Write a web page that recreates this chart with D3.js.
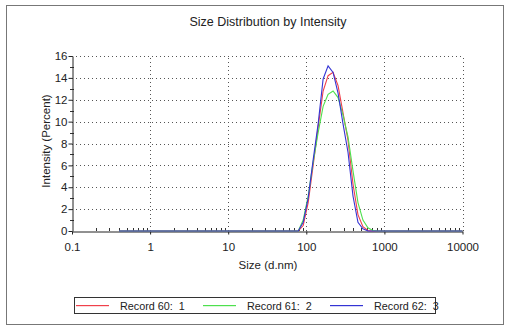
<!DOCTYPE html>
<html>
<head>
<meta charset="utf-8">
<script src="https://cdn.jsdelivr.net/npm/d3@7"></script>
<style>
  body { margin: 0; background: #fff; }
  text { font-family: "Liberation Sans", Arial, sans-serif; fill: #222; }
</style>
</head>
<body>
<div id="chart"></div>
<script>
// size classes (d.nm)
const sizes = [0.4, 0.4632, 0.5365, 0.6213, 0.7195, 0.8332, 0.9649, 1.117, 1.294, 1.499,
  1.736, 2.010, 2.328, 2.696, 3.122, 3.615, 4.187, 4.849, 5.615, 6.503,
  7.531, 8.721, 10.10, 11.70, 13.54, 15.69, 18.17, 21.04, 24.36, 28.21,
  32.67, 37.84, 43.82, 50.75, 58.77, 68.06, 78.82, 91.28, 105.7, 122.4,
  141.8, 164.2, 190.1, 220.2, 255.0, 295.3, 342.0, 396.1, 458.7, 531.2,
  615.1, 712.4, 825.0, 955.4, 1106, 1281, 1484, 1718, 1990, 2305,
  2669, 3091, 3580, 4145, 4801, 5560, 6439, 7456, 8635, 10000];

// non-zero part of each record, starting at 78.82 nm
const peakStart = 36;
const record60 = [0, 0.5, 2.6, 6.0, 9.5, 12.8, 14.2, 14.5, 13.3, 10.8, 8.3, 4.3, 1.5, 0.4, 0.05, 0];
const record61 = [0, 1.0, 3.2, 6.3, 9.0, 11.4, 12.5, 12.8, 12.2, 10.6, 8.6, 5.5, 2.6, 1.0, 0.3, 0.05];
const record62 = [0, 0.8, 3.0, 6.5, 9.8, 13.9, 15.1, 14.5, 12.6, 9.8, 7.2, 3.2, 0.8, 0.2, 0, 0];

const seriesNames = ["Record 60:\u00a0 1", "Record 61:\u00a0 2", "Record 62:\u00a0 3"];
const seriesColors = ["#f0404a", "#4ee04e", "#3434d4"];
const xTickValues = [0.1, 1, 10, 100, 1000, 10000];
const yTickValues = [0, 2, 4, 6, 8, 10, 12, 14, 16];

function fullSeries(part) {
  return sizes.map((s, i) => {
    const k = i - peakStart;
    return {size: s, value: (k >= 0 && k < part.length) ? part[k] : 0};
  });
}
const series = [record60, record61, record62].map(fullSeries);

const width = 510, height = 330;
const margin = {top: 56, left: 72, right: 48, bottom: 99};

const svg = d3.select("#chart").append("svg")
  .attr("width", width)
  .attr("height", height);

// outer frame
svg.append("rect")
  .attr("x", 6.5).attr("y", 5.5)
  .attr("width", 497).attr("height", 319)
  .attr("fill", "none").attr("stroke", "#777");

const x = d3.scaleLog()
  .domain([0.1, 10000])
  .range([margin.left, width - margin.right + 0.5]);
const y = d3.scaleLinear()
  .domain([0, 16])
  .range([height - margin.bottom, margin.top]);

// grid
const grid = svg.append("g").attr("stroke", "#555").attr("stroke-width", 1)
  .attr("stroke-dasharray", "1,3");
grid.selectAll("line.gx").data(xTickValues.slice(1))
  .enter().append("line")
  .attr("x1", d => Math.round(x(d)) + 0.5).attr("x2", d => Math.round(x(d)) + 0.5)
  .attr("y1", y(0)).attr("y2", y(16));
grid.selectAll("line.gy").data(yTickValues.slice(1))
  .enter().append("line")
  .attr("x1", x(0.1)).attr("x2", x(10000))
  .attr("y1", d => Math.round(y(d)) + 0.5).attr("y2", d => Math.round(y(d)) + 0.5);

// x minor ticks (inside)
const minor = [];
xTickValues.slice(0, -1).forEach(d => { for (let m = 2; m <= 9; m++) minor.push(d * m); });
svg.append("g").selectAll("line").data(minor).enter().append("line")
  .attr("x1", d => Math.round(x(d)) + 0.5).attr("x2", d => Math.round(x(d)) + 0.5)
  .attr("y1", y(0)).attr("y2", y(0) - 3)
  .attr("stroke", "#333");

// y minor ticks
svg.append("g").selectAll("line").data([1, 3, 5, 7, 9, 11, 13, 15]).enter().append("line")
  .attr("x1", x(0.1) - 2).attr("x2", x(0.1) + 2)
  .attr("y1", d => Math.round(y(d)) + 0.5).attr("y2", d => Math.round(y(d)) + 0.5)
  .attr("stroke", "#333");

// axes
const xAxis = svg.append("g")
  .attr("transform", "translate(0," + (Math.round(y(0)) + 0.5) + ")")
  .call(d3.axisBottom(x).tickValues(xTickValues).tickFormat(d3.format("~g")).tickSize(3).tickSizeOuter(0));
const yAxis = svg.append("g")
  .attr("transform", "translate(" + (Math.round(x(0.1)) + 0.5) + ",0)")
  .call(d3.axisLeft(y).tickValues(yTickValues).tickSize(4).tickSizeOuter(0));
[xAxis, yAxis].forEach(a => {
  a.select(".domain").attr("stroke", "#222");
  a.selectAll(".tick line").attr("stroke", "#222");
  a.selectAll("text").attr("font-size", 11.5).attr("fill", "#222")
    .style("font-family", "'Liberation Sans', Arial, sans-serif");
});
xAxis.selectAll("text").attr("dy", "1.2em");
yAxis.selectAll("text").attr("x", -5);

// curves
const line = d3.line()
  .x(d => x(d.size))
  .y(d => y(d.value));
svg.append("g").selectAll("path").data(series).enter().append("path")
  .attr("d", line)
  .attr("fill", "none")
  .attr("stroke", (d, i) => seriesColors[i])
  .attr("stroke-width", 1.1);

// titles
svg.append("text")
  .attr("x", 268).attr("y", 26)
  .attr("text-anchor", "middle").attr("font-size", 12.5)
  .text("Size Distribution by Intensity");
svg.append("text")
  .attr("x", 268).attr("y", 269)
  .attr("text-anchor", "middle").attr("font-size", 11.5)
  .text("Size (d.nm)");
svg.append("text")
  .attr("transform", "translate(50,141) rotate(-90)")
  .attr("text-anchor", "middle").attr("font-size", 11.5)
  .text("Intensity (Percent)");

// legend
const legendItems = seriesNames.map((name, i) => ({name: name, color: seriesColors[i], idx: i}));
const legend = svg.append("g");
legend.append("rect")
  .attr("x", 74.5).attr("y", 297.5)
  .attr("width", 361).attr("height", 16)
  .attr("fill", "#fff").attr("stroke", "#333");
const item = legend.selectAll("g.item").data(legendItems).enter().append("g")
  .attr("class", "item")
  .attr("transform", d => "translate(" + (76 + d.idx * 127) + ",0)");
item.append("rect")
  .attr("x", 0).attr("y", 305)
  .attr("width", 33).attr("height", 1.2)
  .attr("fill", d => d.color);
item.append("text")
  .attr("x", 44).attr("y", 310)
  .attr("font-size", 10.8)
  .text(d => d.name);
</script>
</body>
</html>
